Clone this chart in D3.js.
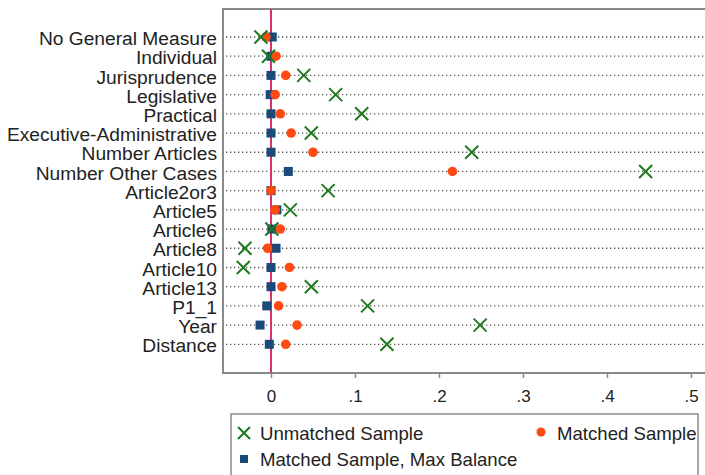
<!DOCTYPE html>
<html><head><meta charset="utf-8">
<script src="https://cdn.jsdelivr.net/npm/d3@7"></script>
<style>body{margin:0;background:#fff}svg{display:block;font-family:"Liberation Sans",Arial,sans-serif}</style>
</head><body><svg id="c" width="705" height="475"></svg>
<script>
const categories = ["No General Measure","Individual","Jurisprudence","Legislative","Practical","Executive-Administrative","Number Articles","Number Other Cases","Article2or3","Article5","Article6","Article8","Article10","Article13","P1_1","Year","Distance"];
const unmatched = [-0.012,-0.003,0.039,0.077,0.108,0.048,0.239,0.446,0.068,0.023,0.001,-0.031,-0.033,0.048,0.115,0.249,0.138];
const matched   = [-0.006,0.006,0.0175,0.005,0.011,0.024,0.050,0.216,0.000,0.005,0.011,-0.004,0.022,0.013,0.009,0.031,0.0175];
const maxBalance= [0.0015,0.000,0.000,-0.001,0.000,0.000,0.000,0.0206,0.000,0.007,0.001,0.006,0.000,0.000,-0.005,-0.013,-0.002];
const xTicks = [0,0.1,0.2,0.3,0.4,0.5];
const xTickLabels = ["0",".1",".2",".3",".4",".5"];
const legendLabels = ["Unmatched Sample","Matched Sample","Matched Sample, Max Balance"];

const svg = d3.select("#c");
const x = d3.scaleLinear().domain([0,0.5]).range([271,691]);
const y = d3.scalePoint().domain(categories).range([37,344.3]);
const pL=223, pT=9, pB=373, pR=712;
const green="#1e7a1e", orange="#ff4a12", navy="#1a4a78";
const FONT="Liberation Sans, Arial, sans-serif";

// gridlines
svg.append("g").selectAll("line").data(categories).join("line")
  .attr("x1",pL+3).attr("x2",pR).attr("y1",d=>y(d)).attr("y2",d=>y(d))
  .attr("stroke","#555").attr("stroke-width",1.3).attr("stroke-dasharray","1.3,2.7");

// frame
svg.append("path").attr("d",`M${pR},${pT}H${pL}V${pB}H${pR}`)
  .attr("fill","none").attr("stroke","#8a8a8a").attr("stroke-width",2);

// zero line
svg.append("line").attr("x1",x(0)).attr("x2",x(0)).attr("y1",pT).attr("y2",pB)
  .attr("stroke","#d8326a").attr("stroke-width",2);

// x axis
const xa = svg.append("g").attr("transform",`translate(0,${pB})`)
  .call(d3.axisBottom(x).tickValues(xTicks).tickFormat((d,i)=>xTickLabels[i]).tickSize(5).tickPadding(12));
xa.select(".domain").remove();
xa.selectAll("line").attr("stroke","#8a8a8a").attr("stroke-width",1.5);
xa.selectAll("text").attr("font-size",17).attr("fill","#222").attr("font-family",FONT);

// y axis labels
const ya = svg.append("g").attr("transform",`translate(${pL},0)`)
  .call(d3.axisLeft(y).tickSize(0).tickPadding(6));
ya.select(".domain").remove();
ya.selectAll("text").attr("font-size",19.2).attr("fill","#222").attr("font-family",FONT).attr("dy","0.4em");

function xMark(g, cx, cy, s, color){
  g.append("path").attr("d",`M${cx-s},${cy-s}L${cx+s},${cy+s}M${cx-s},${cy+s}L${cx+s},${cy-s}`)
    .attr("stroke",color).attr("stroke-width",2).attr("fill","none");
}
const marks = svg.append("g");
categories.forEach((c,i)=>{
  marks.append("rect").attr("x",x(maxBalance[i])-4.5).attr("y",y(c)-4.5).attr("width",9).attr("height",9).attr("fill",navy);
});
categories.forEach((c,i)=>{
  marks.append("circle").attr("cx",x(matched[i])).attr("cy",y(c)).attr("r",4.8).attr("fill",orange);
});
categories.forEach((c,i)=>{
  xMark(marks, x(unmatched[i]), y(c), 6.5, green);
});

// legend
const lg = svg.append("g");
lg.append("rect").attr("x",231).attr("y",414).attr("width",467).attr("height",80)
  .attr("fill","#fff").attr("stroke","#8a8a8a").attr("stroke-width",1.5);
xMark(lg, 244, 433, 6, green);
lg.append("text").attr("x",260).attr("y",439.5).text(legendLabels[0]);
lg.append("circle").attr("cx",541).attr("cy",432).attr("r",4.5).attr("fill",orange);
lg.append("text").attr("x",557).attr("y",439.5).text(legendLabels[1]);
lg.append("rect").attr("x",240).attr("y",455).attr("width",8).attr("height",8).attr("fill",navy);
lg.append("text").attr("x",260).attr("y",466).text(legendLabels[2]);
lg.selectAll("text").attr("font-size",18.6).attr("fill","#222").attr("font-family",FONT);
</script></body></html>
